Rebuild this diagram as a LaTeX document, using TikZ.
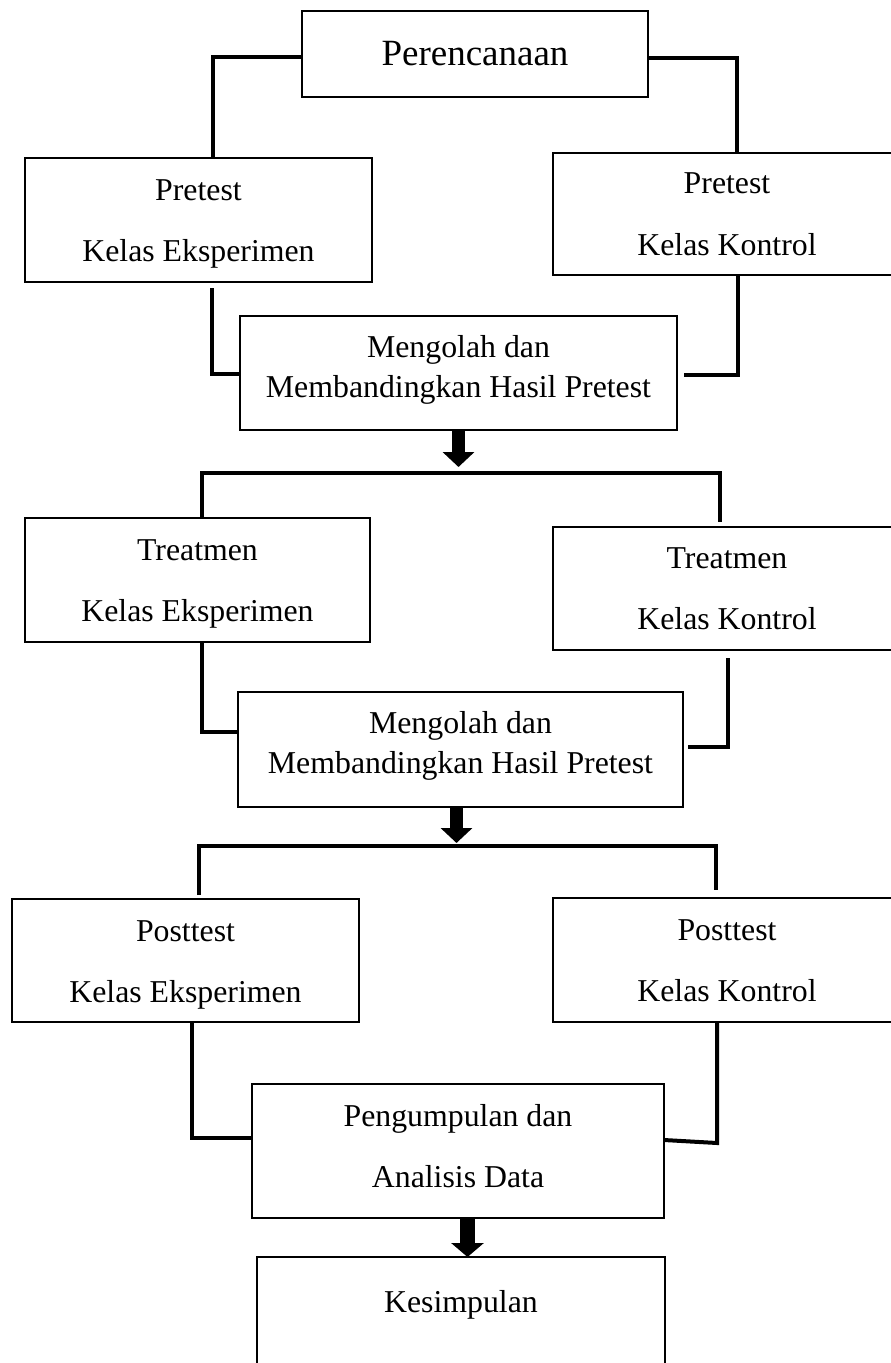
\documentclass[tikz,border=0pt]{standalone}
\usepackage{fontspec}
\setmainfont{Liberation Serif}
\usetikzlibrary{arrows.meta}
\tikzset{
  box/.style={draw, line width=2.4pt, inner sep=0pt, outer sep=0pt},
  conn/.style={line width=4pt},
  txt/.style={font=\fontsize{31.8}{38}\selectfont, anchor=base, inner sep=0pt},
  bigtxt/.style={font=\fontsize{37}{44}\selectfont, anchor=base, inner sep=0pt},
  fat/.style={line width=13pt, -{Triangle[width=31pt,length=15pt]}}
}
\begin{document}
\begin{tikzpicture}[x=1pt,y=-1pt]
\useasboundingbox (0,0) rectangle (891,1363);
\clip (0,0) rectangle (891,1363);
% boxes
\node[box, minimum width=346pt, minimum height=86pt]  (per)   at (475,54) {};
\node[box, minimum width=347pt, minimum height=124pt] (preE)  at (198.5,220) {};
\node[box, minimum width=348pt, minimum height=122pt] (preK)  at (727,214) {};
\node[box, minimum width=437pt, minimum height=114pt] (m1)    at (458.5,373) {};
\node[box, minimum width=345pt, minimum height=124pt] (trE)   at (197.5,580) {};
\node[box, minimum width=348pt, minimum height=123pt] (trK)   at (727,588.5) {};
\node[box, minimum width=445pt, minimum height=115pt] (m2)    at (460.5,749.5) {};
\node[box, minimum width=347pt, minimum height=123pt] (postE) at (185.5,960.5) {};
\node[box, minimum width=348pt, minimum height=124pt] (postK) at (727,960) {};
\node[box, minimum width=412pt, minimum height=134pt] (peng)  at (458,1151) {};
\node[box, minimum width=408pt, minimum height=163pt] (kes)   at (461,1338.5) {};
% texts
\node[bigtxt] (tper) at (475,65) {Perencanaan};
\node[txt] (tpreE1) at (198.5,200) {Pretest};
\node[txt] (tpreE2) at (198.5,261) {Kelas Eksperimen};
\node[txt] (tpreK1) at (727,193) {Pretest};
\node[txt] (tpreK2) at (727,255) {Kelas Kontrol};
\node[txt] (tm11) at (458.5,357) {Mengolah dan};
\node[txt] (tm12) at (458.5,397) {Membandingkan Hasil Pretest};
\node[txt] (ttrE1) at (197.5,560) {Treatmen};
\node[txt] (ttrE2) at (197.5,621) {Kelas Eksperimen};
\node[txt] (ttrK1) at (727,568) {Treatmen};
\node[txt] (ttrK2) at (727,629) {Kelas Kontrol};
\node[txt] (tm21) at (460.5,733) {Mengolah dan};
\node[txt] (tm22) at (460.5,773) {Membandingkan Hasil Pretest};
\node[txt] (tpostE1) at (185.5,941) {Posttest};
\node[txt] (tpostE2) at (185.5,1002) {Kelas Eksperimen};
\node[txt] (tpostK1) at (727,940) {Posttest};
\node[txt] (tpostK2) at (727,1001) {Kelas Kontrol};
\node[txt] (tpeng1) at (458,1126) {Pengumpulan dan};
\node[txt] (tpeng2) at (458,1187) {Analisis Data};
\node[txt] (tkes) at (461,1312) {Kesimpulan};
% connectors from Perencanaan
\draw[conn] (per.west |- 0,57) -- (213,57) -- (preE.north -| 213,0);
\draw[conn] (per.east |- 0,58) -- (737,58) -- (preK.north -| 737,0);
% pretest -> m1
\draw[conn] ([yshift=-6pt]preE.south -| 212,0) |- (m1.west |- 0,374);
\draw[conn] (preK.south -| 738,0) |- ([xshift=7pt]m1.east |- 0,375);
% arrow and split 1
\coordinate (s1) at (458.5,473);
\draw[fat] (m1.south -| 458.5,0) -- ([yshift=6pt]s1);
\draw[conn] (trE.north -| 202,0) -- (202,473) -- (720,473) -- ([yshift=5pt]trK.north -| 720,0);
% treatment -> m2
\draw[conn] (trE.south -| 202,0) |- (m2.west |- 0,732);
\draw[conn] ([yshift=-8pt]trK.south -| 728,0) |- ([xshift=5pt]m2.east |- 0,747);
% arrow and split 2
\coordinate (s2) at (456.5,846);
\draw[fat] (m2.south -| 456.5,0) -- ([yshift=3pt]s2);
\draw[conn] ([yshift=4pt]postE.north -| 199,0) -- (199,846) -- (716,846) -- ([yshift=8pt]postK.north -| 716,0);
% posttest -> peng
\draw[conn] (postE.south -| 192,0) |- (peng.west |- 0,1138);
\draw[conn] (postK.south -| 717,0) -- (717,1143) -- (peng.east |- 0,1140);
% arrow to kesimpulan
\draw[fat, line width=15pt, -{Triangle[width=32pt,length=14pt]}] (peng.south -| 467.5,0) -- (kes.north -| 467.5,0);
\end{tikzpicture}
\end{document}
